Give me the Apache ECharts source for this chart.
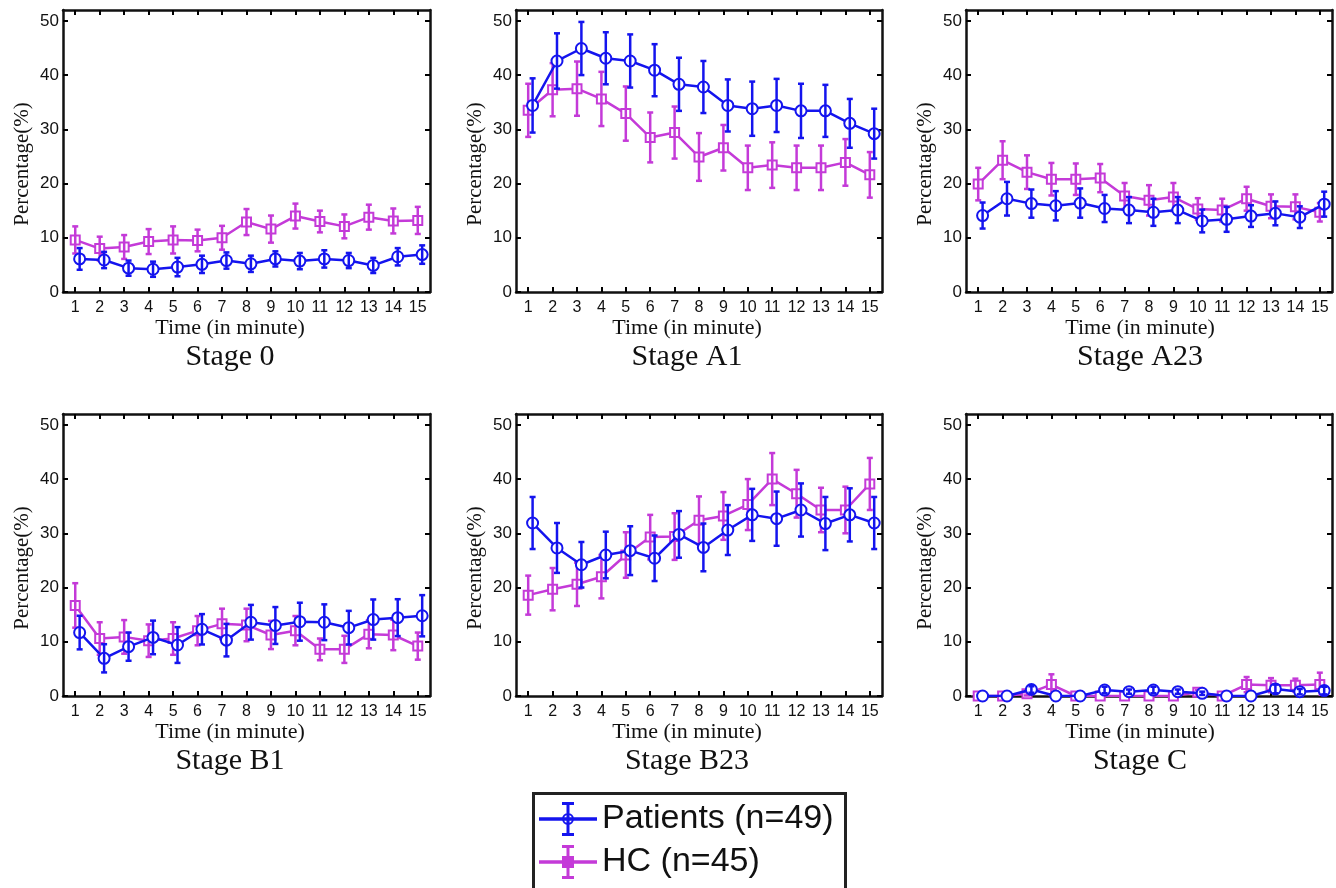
<!DOCTYPE html>
<html>
<head>
<meta charset="utf-8">
<script src="https://cdn.jsdelivr.net/npm/echarts@6/dist/echarts.min.js"></script>
<style>
html, body { margin: 0; padding: 0; background: #fff; }
#chart { width: 1336px; height: 888px; }
</style>
</head>
<body>
<div id="chart"></div>
<script>
// data: mean and error bar half-length per minute
var minutes = [1, 2, 3, 4, 5, 6, 7, 8, 9, 10, 11, 12, 13, 14, 15];
var yTicks = [0, 10, 20, 30, 40, 50];
var stageNames = ['Stage 0', 'Stage A1', 'Stage A23', 'Stage B1', 'Stage B23', 'Stage C'];
var groupNames = ['Patients (n=49)', 'HC (n=45)'];

var s0PatMean = [6.1, 5.9, 4.4, 4.2, 4.6, 5.1, 5.8, 5.2, 6.1, 5.7, 6.1, 5.8, 4.9, 6.5, 6.9];
var s0PatErr  = [2.0, 1.5, 1.4, 1.4, 1.7, 1.6, 1.5, 1.5, 1.4, 1.5, 1.6, 1.4, 1.4, 1.6, 1.7];
var s0HcMean  = [9.6, 8.0, 8.3, 9.3, 9.6, 9.5, 10.0, 12.9, 11.6, 14.0, 13.0, 12.1, 13.8, 13.1, 13.2];
var s0HcErr   = [2.5, 2.2, 2.2, 2.3, 2.5, 2.0, 2.2, 2.4, 2.5, 2.3, 2.0, 2.2, 2.3, 2.3, 2.5];

var a1PatMean = [34.4, 42.6, 44.9, 43.1, 42.6, 40.9, 38.3, 37.8, 34.4, 33.8, 34.4, 33.4, 33.4, 31.1, 29.2];
var a1PatErr  = [5.0, 5.1, 4.9, 4.8, 4.9, 4.8, 4.9, 4.8, 4.8, 5.0, 4.9, 5.0, 4.8, 4.5, 4.6];
var a1HcMean  = [33.5, 37.3, 37.5, 35.6, 32.9, 28.5, 29.4, 24.9, 26.6, 22.9, 23.4, 22.9, 22.9, 23.9, 21.6];
var a1HcErr   = [4.9, 4.9, 5.0, 5.0, 5.0, 4.6, 4.8, 4.4, 4.2, 4.1, 4.2, 4.1, 4.1, 4.3, 4.2];

var a23PatMean = [14.1, 17.2, 16.3, 15.9, 16.4, 15.4, 15.1, 14.7, 15.1, 13.1, 13.4, 14.0, 14.5, 13.8, 16.2];
var a23PatErr  = [2.4, 3.1, 2.6, 2.7, 2.7, 2.5, 2.4, 2.5, 2.4, 2.1, 2.3, 2.0, 2.2, 2.0, 2.3];
var a23HcMean  = [19.9, 24.3, 22.1, 20.8, 20.8, 21.0, 17.7, 16.9, 17.5, 15.3, 15.1, 17.2, 15.8, 15.7, 14.7];
var a23HcErr   = [3.0, 3.5, 3.1, 3.0, 2.9, 2.6, 2.4, 2.8, 2.6, 2.0, 2.1, 2.2, 2.2, 2.3, 1.7];

var b1PatMean = [11.7, 6.95, 9.1, 10.8, 9.4, 12.3, 10.3, 13.6, 13.0, 13.7, 13.6, 12.6, 14.1, 14.45, 14.8];
var b1PatErr  = [3.1, 2.6, 2.6, 3.1, 3.3, 2.8, 3.0, 3.2, 3.4, 3.5, 3.3, 3.1, 3.7, 3.4, 3.8];
var b1HcMean  = [16.7, 10.6, 10.9, 10.2, 10.6, 12.05, 13.3, 13.1, 11.25, 12.05, 8.6, 8.6, 11.4, 11.25, 9.2];
var b1HcErr   = [4.1, 3.0, 3.1, 3.0, 3.0, 2.7, 2.8, 3.0, 2.6, 2.7, 2.0, 2.5, 2.6, 2.8, 2.5];

var b23PatMean = [31.9, 27.3, 24.2, 26.0, 26.8, 25.4, 29.8, 27.4, 30.6, 33.4, 32.7, 34.3, 31.8, 33.4, 31.9];
var b23PatErr  = [4.8, 4.6, 4.2, 4.3, 4.5, 4.2, 4.3, 4.4, 4.6, 4.8, 5.0, 4.9, 4.9, 4.9, 4.8];
var b23HcMean  = [18.6, 19.7, 20.6, 22.0, 26.0, 29.3, 29.4, 32.4, 33.2, 35.3, 40.0, 37.3, 34.3, 34.3, 39.1];
var b23HcErr   = [3.6, 3.9, 4.0, 4.0, 4.2, 4.1, 4.3, 4.4, 4.4, 4.7, 4.8, 4.4, 4.1, 4.3, 4.8];

var cPatMean = [0, 0, 1.2, 0, 0, 1.1, 0.8, 1.1, 0.8, 0.5, 0, 0, 1.3, 0.8, 1.0];
var cPatErr  = [0, 0, 0.6, 0, 0, 0.6, 0.4, 0.6, 0.4, 0.3, 0, 0, 0.8, 0.5, 0.7];
var cHcMean  = [0, 0, 0.4, 2.1, 0, 0, 0, 0, 0, 0.7, 0, 2.1, 2.0, 2.0, 2.1];
var cHcErr   = [0, 0, 0.3, 1.9, 0, 0, 0, 0, 0, 0.4, 0, 1.4, 1.3, 1.2, 2.2];

var stages = [
  [s0PatMean, s0PatErr, s0HcMean, s0HcErr],
  [a1PatMean, a1PatErr, a1HcMean, a1HcErr],
  [a23PatMean, a23PatErr, a23HcMean, a23HcErr],
  [b1PatMean, b1PatErr, b1HcMean, b1HcErr],
  [b23PatMean, b23PatErr, b23HcMean, b23HcErr],
  [cPatMean, cPatErr, cHcMean, cHcErr]
];

var blue = '#1414ee';
var magenta = '#c43ad8';
var patShift = 0.18; // patients drawn slightly right of the tick, as in the figure

var colLeft = [63, 516, 966];
var colWidth = [367, 366, 366];
var colCenter = [230, 687, 1140];
var rowTop = [10, 414];
var plotH = 282;

var myChart = echarts.init(document.getElementById('chart'));

function errorBar(params, api) {
  var x = api.value(0), m = api.value(1), e = api.value(2);
  if (!e) return null;
  var cs = params.coordSys;
  var hi = api.coord([x, m + e]);
  var lo = api.coord([x, m - e]);
  var bottom = cs.y + cs.height;
  var loY = Math.min(lo[1], bottom);
  var c = api.visual('color');
  var kids = [
    { type: 'line', shape: { x1: hi[0], y1: hi[1], x2: lo[0], y2: loY }, style: { stroke: c, lineWidth: 2.5 } },
    { type: 'line', shape: { x1: hi[0] - 3, y1: hi[1], x2: hi[0] + 3, y2: hi[1] }, style: { stroke: c, lineWidth: 2.5 } }
  ];
  if (lo[1] <= bottom) {
    kids.push({ type: 'line', shape: { x1: lo[0] - 3, y1: lo[1], x2: lo[0] + 3, y2: lo[1] }, style: { stroke: c, lineWidth: 2.5 } });
  }
  return { type: 'group', children: kids };
}

var grid = [], xAxis = [], yAxis = [], series = [], title = [];
var serif = 'Liberation Serif';
var sans = 'Liberation Sans';

for (var i = 0; i < 6; i++) {
  var col = i % 3, row = Math.floor(i / 3);
  grid.push({ left: colLeft[col], top: rowTop[row], width: colWidth[col], height: plotH });

  var tickStyle = { show: true, inside: true, length: 5, lineStyle: { color: '#000', width: 2 } };
  var lineStyle = { show: true, onZero: false, lineStyle: { color: '#111', width: 2.5 } };

  xAxis.push({
    type: 'value', gridIndex: i, min: 0.5, max: 15.5, position: 'bottom',
    axisLine: lineStyle, splitLine: { show: false },
    axisTick: Object.assign({}, tickStyle, { customValues: minutes }),
    axisLabel: { customValues: minutes, margin: 8, color: '#111', fontFamily: sans, fontSize: 16 }
  });
  xAxis.push({
    type: 'value', gridIndex: i, min: 0.5, max: 15.5, position: 'top',
    axisLine: lineStyle, splitLine: { show: false },
    axisTick: Object.assign({}, tickStyle, { customValues: minutes }),
    axisLabel: { show: false }
  });
  yAxis.push({
    type: 'value', gridIndex: i, min: 0, max: 52, position: 'left',
    name: 'Percentage(%)', nameLocation: 'middle', nameGap: 30,
    nameTextStyle: { fontFamily: serif, fontSize: 21, color: '#111', padding: [0, 26, 0, 0] },
    axisLine: lineStyle, splitLine: { show: false },
    axisTick: Object.assign({}, tickStyle, { customValues: yTicks }),
    axisLabel: { customValues: yTicks, margin: 4, color: '#111', fontFamily: sans, fontSize: 17 }
  });
  yAxis.push({
    type: 'value', gridIndex: i, min: 0, max: 52, position: 'right',
    axisLine: lineStyle, splitLine: { show: false },
    axisTick: Object.assign({}, tickStyle, { customValues: yTicks }),
    axisLabel: { show: false }
  });

  var d = stages[i];
  var patLine = [], hcLine = [], patBars = [], hcBars = [];
  for (var k = 0; k < minutes.length; k++) {
    patLine.push([minutes[k] + patShift, d[0][k]]);
    patBars.push([minutes[k] + patShift, d[0][k], d[1][k]]);
    hcLine.push([minutes[k], d[2][k]]);
    hcBars.push([minutes[k], d[2][k], d[3][k]]);
  }
  var xi = i * 2, yi = i * 2;

  series.push({
    name: groupNames[1], type: 'line', xAxisIndex: xi, yAxisIndex: yi, data: hcLine,
    symbol: 'emptyRect', symbolSize: 9, z: 2,
    lineStyle: { color: magenta, width: 2.5 },
    itemStyle: { color: magenta, borderColor: magenta, borderWidth: 2.5 }
  });
  series.push({
    name: 'hc-err-' + i, type: 'custom', xAxisIndex: xi, yAxisIndex: yi, data: hcBars,
    renderItem: errorBar, encode: { x: 0, y: 1 }, itemStyle: { color: magenta }, z: 3
  });
  series.push({
    name: groupNames[0], type: 'line', xAxisIndex: xi, yAxisIndex: yi, data: patLine,
    symbol: 'emptyCircle', symbolSize: 11, z: 4,
    lineStyle: { color: blue, width: 2.5 },
    itemStyle: { color: blue, borderColor: blue, borderWidth: 2 }
  });
  series.push({
    name: 'pat-err-' + i, type: 'custom', xAxisIndex: xi, yAxisIndex: yi, data: patBars,
    renderItem: errorBar, encode: { x: 0, y: 1 }, itemStyle: { color: blue }, z: 5
  });

  var base = row === 0 ? 292 : 696;
  title.push({
    text: 'Time (in minute)', left: colCenter[col], top: base + 36, padding: 0,
    textAlign: 'center', textVerticalAlign: 'middle',
    textStyle: { fontFamily: serif, fontSize: 22, fontWeight: 'normal', color: '#111' }
  });
  title.push({
    text: stageNames[i], left: colCenter[col], top: base + 65, padding: 0,
    textAlign: 'center', textVerticalAlign: 'middle',
    textStyle: { fontFamily: serif, fontSize: 30, fontWeight: 'normal', color: '#111' }
  });
}

var barPath = 'M0,16.2 H58 V19.8 H0 Z M27.5,2 H30.5 V34 H27.5 Z M23,1 H35 V4 H23 Z M23,32 H35 V35 H23 Z ';
var patIcon = 'path://' + barPath + 'M35,18 A6,6 0 1,1 23,18 A6,6 0 1,1 35,18 Z M33,18 A4,4 0 1,0 25,18 A4,4 0 1,0 33,18 Z';
var hcIcon = 'path://' + barPath + 'M23,12 H35 V24 H23 Z';

option = {
  backgroundColor: '#fff',
  animation: false,
  title: title,
  grid: grid,
  xAxis: xAxis,
  yAxis: yAxis,
  // legend frame runs off the bottom edge like in the figure
  graphic: [{
    type: 'rect', left: 532, top: 792, z: 0,
    shape: { width: 312, height: 120 },
    style: { fill: '#fff', stroke: '#222', lineWidth: 3 }
  }],
  legend: {
    left: 539, top: 802, orient: 'vertical',
    padding: 0, itemGap: 9,
    itemWidth: 58, itemHeight: 36,
    selectedMode: false, z: 10,
    textStyle: { fontFamily: sans, fontSize: 34, color: '#111' },
    data: [
      { name: groupNames[0], icon: patIcon, itemStyle: { color: blue, borderWidth: 0 } },
      { name: groupNames[1], icon: hcIcon, itemStyle: { color: magenta, borderWidth: 0 } }
    ]
  },
  series: series
};

myChart.setOption(option);
</script>
</body>
</html>
